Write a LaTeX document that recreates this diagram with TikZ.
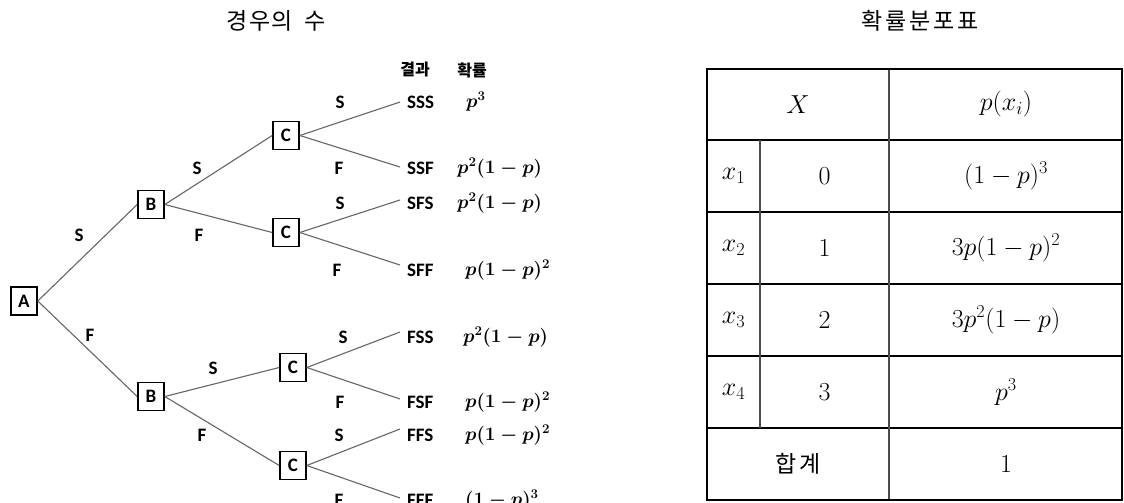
\RequirePackage{fix-cm}
\documentclass[tikz,border=0pt]{standalone}
\usepackage{amsmath}
\usepackage{fontspec}
\newfontfamily\cjk{Noto Sans CJK KR}
\newfontfamily\lab{Carlito}
\tikzset{
  nbox/.style={draw=black, line width=1.6pt, fill=white, minimum width=26pt, minimum height=28pt, inner sep=0pt, font=\lab\bfseries\fontsize{19}{22}\selectfont},
  br/.style={draw=black!60, line width=1.1pt},
  lbl/.style={inner sep=0pt, font=\lab\bfseries\fontsize{19}{22}\selectfont},
  leaf/.style={lbl, anchor=west},
  prob/.style={anchor=west, inner sep=0pt, font=\fontsize{19}{22}\selectfont},
  head/.style={inner sep=0pt, font=\cjk\bfseries\fontsize{16}{19}\selectfont},
  ttl/.style={inner sep=0pt, font=\cjk\fontsize{23}{27}\selectfont},
  cell/.style={inner sep=0pt, font=\fontsize{26}{30}\selectfont},
  outer/.style={draw=black, line width=1.6pt},
  hline/.style={draw=black, line width=1.1pt},
  vline/.style={draw=black!70, line width=1.1pt}
}
\begin{document}
\begin{tikzpicture}[x=1pt,y=-1pt]
\useasboundingbox (0,0) rectangle (1124,503);
\clip (0,0) rectangle (1124,503);
\fill[white] (0,0) rectangle (1124,503);

% titles
\node[ttl] (t1) at (276,21) {경\hspace{2pt}우\hspace{1pt}의\hspace{12pt}수};
\node[ttl] (t2) at (920,21) {확\hspace{3pt}률\hspace{3pt}분\hspace{3pt}포\hspace{3pt}표};

% tree nodes
\node[nbox] (A) at (24,301) {A};
\node[nbox] (B1) at (151,204.5) {B};
\node[nbox] (B2) at (151,396.5) {B};
\node[nbox] (C1) at (286,135.5) {C};
\node[nbox] (C2) at (286,232.5) {C};
\node[nbox] (C3) at (293,367.5) {C};
\node[nbox] (C4) at (293,465.5) {C};

% leaf end points
\coordinate (e1) at (400,102);
\coordinate (e2) at (400,167);
\coordinate (e3) at (400,200);
\coordinate (e4) at (400,265);
\coordinate (e5) at (400,332);
\coordinate (e6) at (400,399);
\coordinate (e7) at (400,429);
\coordinate (e8) at (400,498);

% branches
\draw[br] (A.east) -- (B1.west);
\draw[br] (A.east) -- (B2.west);
\draw[br] (B1.east) -- (C1.west);
\draw[br] (B1.east) -- (C2.west);
\draw[br] (B2.east) -- (C3.west);
\draw[br] (B2.east) -- (C4.west);
\draw[br] (C1.east) -- (e1);
\draw[br] (C1.east) -- (e2);
\draw[br] (C2.east) -- (e3);
\draw[br] (C2.east) -- (e4);
\draw[br] (C3.east) -- (e5);
\draw[br] (C3.east) -- (e6);
\draw[br] (C4.east) -- (e7);
\draw[br] (C4.east) -- (e8);

% branch labels
\node[lbl] (lab1) at (79,235) {S};
\node[lbl] (lab2) at (90,335) {F};
\node[lbl] (lab3) at (197,168) {S};
\node[lbl] (lab4) at (199,235) {F};
\node[lbl] (lab5) at (213,368) {S};
\node[lbl] (lab6) at (202,435) {F};
\node[lbl] (lab7) at (340,102) {S};
\node[lbl] (lab8) at (339,168) {F};
\node[lbl] (lab9) at (340,203) {S};
\node[lbl] (lab10) at (337,270) {F};
\node[lbl] (lab11) at (343,337) {S};
\node[lbl] (lab12) at (340,402) {F};
\node[lbl] (lab13) at (339,435) {S};
\node[lbl] (lab14) at (339,500) {F};

% headers
\node[head] (h1) at (415,70) {결과};
\node[head] (h2) at (472,70) {확률};

% outcomes
\node[leaf] (o1) at (407,102) {SSS};
\node[leaf] (o2) at (407,168) {SSF};
\node[leaf] (o3) at (407,203) {SFS};
\node[leaf] (o4) at (407,270) {SFF};
\node[leaf] (o5) at (407,337) {FSS};
\node[leaf] (o6) at (407,402) {FSF};
\node[leaf] (o7) at (407,435) {FFS};
\node[leaf] (o8) at (407,500) {FFF};

% probabilities
\node[prob] (p1) at (466,102) {$\boldsymbol{p^3}$};
\node[prob] (p2) at (457,168) {$\boldsymbol{p^2(1-p)}$};
\node[prob] (p3) at (457,203) {$\boldsymbol{p^2(1-p)}$};
\node[prob] (p4) at (465,270) {$\boldsymbol{p(1-p)^2}$};
\node[prob] (p5) at (463,337) {$\boldsymbol{p^2(1-p)}$};
\node[prob] (p6) at (465,402) {$\boldsymbol{p(1-p)^2}$};
\node[prob] (p7) at (465,435) {$\boldsymbol{p(1-p)^2}$};
\node[prob] (p8) at (465,500) {$\boldsymbol{(1-p)^3}$};

% table
\draw[hline] (707,140) -- (1122,140);
\draw[hline] (707,212) -- (1122,212);
\draw[hline] (707,284) -- (1122,284);
\draw[hline] (707,356) -- (1122,356);
\draw[hline] (707,428) -- (1122,428);
\draw[vline] (760,140) -- (760,428);
\draw[vline] (889,69) -- (889,500);
\draw[outer] (707,69) rectangle (1122,500);

\node[cell] (cX) at (798,104.5) {$X$};
\node[cell] (cP) at (1006,104.5) {$p(x_i)$};
\node[cell] (x1) at (733.5,176) {$x_1$};
\node[cell] (x2) at (733.5,248) {$x_2$};
\node[cell] (x3) at (733.5,320) {$x_3$};
\node[cell] (x4) at (733.5,392) {$x_4$};
\node[cell] (v1) at (824.5,176) {$0$};
\node[cell] (v2) at (824.5,248) {$1$};
\node[cell] (v3) at (824.5,320) {$2$};
\node[cell] (v4) at (824.5,392) {$3$};
\node[cell] (q1) at (1006,176) {$(1-p)^3$};
\node[cell] (q2) at (1006,248) {$3p(1-p)^2$};
\node[cell] (q3) at (1006,320) {$3p^2(1-p)$};
\node[cell] (q4) at (1006,392) {$p^3$};
\node[cell, font=\cjk\fontsize{23}{27}\selectfont] (sum) at (798,464) {합\hspace{3pt}계};
\node[cell] (one) at (1006,464) {$1$};
\end{tikzpicture}
\end{document}
